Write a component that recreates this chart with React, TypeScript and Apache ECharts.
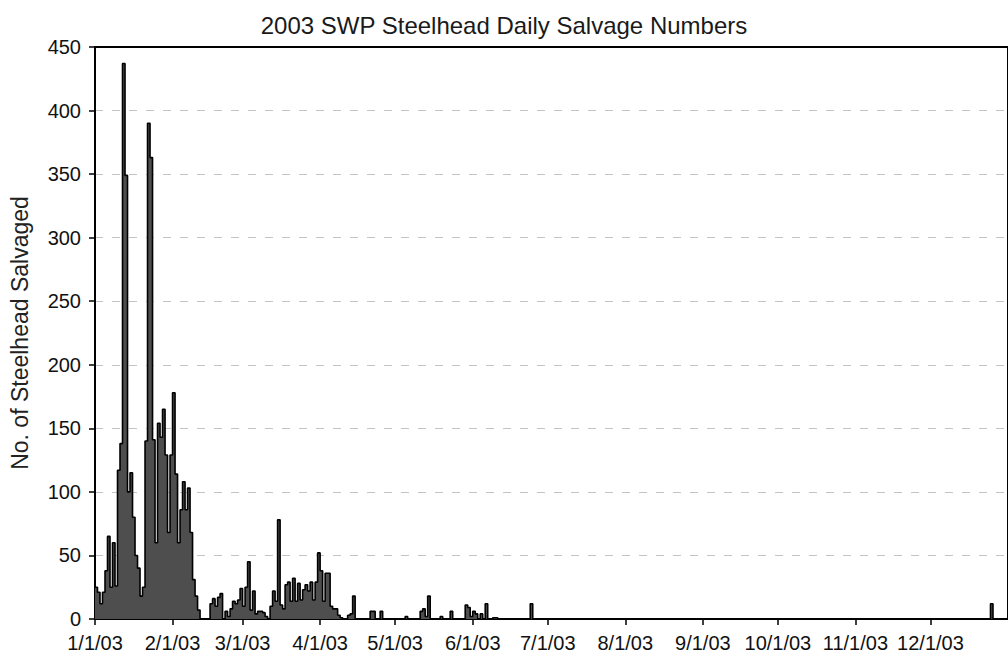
import React, { useEffect, useRef } from "react";
import * as echarts from "echarts";

const TITLE = "2003 SWP Steelhead Daily Salvage Numbers";
const Y_NAME = "No. of Steelhead Salvaged";

// x tick positions (day index of each month start) and their labels
const tickDays = [0, 31, 59, 90, 120, 151, 181, 212, 243, 273, 304, 334];
const tickLabels = [
  "1/1/03", "2/1/03", "3/1/03", "4/1/03", "5/1/03", "6/1/03",
  "7/1/03", "8/1/03", "9/1/03", "10/1/03", "11/1/03", "12/1/03",
];

// daily salvage numbers, one value per day
const jan = [25, 21, 12, 21, 38, 65, 25, 60, 26, 117, 138, 437, 349, 100, 115, 80, 50, 40, 18, 25, 140, 390, 363, 141, 60, 154, 143, 165, 129, 68, 129];
const feb = [178, 114, 60, 86, 108, 86, 103, 68, 31, 18, 7, 0, 0, 0, 0, 12, 16, 10, 17, 20, 0, 6, 2, 8, 14, 12, 15, 24];
const mar = [10, 25, 45, 7, 22, 4, 6, 6, 5, 2, 0, 10, 22, 14, 78, 11, 8, 27, 29, 14, 32, 14, 28, 15, 23, 27, 22, 29, 15, 29, 52];
const apr = [38, 14, 36, 36, 10, 8, 8, 3, 1, 0, 0, 3, 4, 18, 0, 0, 0, 0, 0, 0, 6, 6, 0, 0, 6, 0, 0, 0, 0, 0];
const may = [0, 0, 0, 0, 2, 0, 0, 0, 0, 0, 6, 8, 2, 18, 0, 0, 0, 0, 2, 0, 0, 0, 6, 0, 0, 0, 0, 0, 11, 9, 2];
const jun = [6, 4, 0, 4, 0, 12, 0, 0, 1, 1, 0, 0, 0, 0, 0, 0, 0, 0, 0, 0, 0, 0, 0, 12, 0, 0, 0, 0, 0, 0];
const jul = [0, 0, 0, 0, 0, 0, 0, 0, 0, 0, 0, 0, 0, 0, 0, 0, 0, 0, 0, 0, 0, 0, 0, 0, 0, 0, 0, 0, 0, 0, 0];
const aug = [0, 0, 0, 0, 0, 0, 0, 0, 0, 0, 0, 0, 0, 0, 0, 0, 0, 0, 0, 0, 0, 0, 0, 0, 0, 0, 0, 0, 0, 0, 0];
const sep = [0, 0, 0, 0, 0, 0, 0, 0, 0, 0, 0, 0, 0, 0, 0, 0, 0, 0, 0, 0, 0, 0, 0, 0, 0, 0, 0, 0, 0, 0];
const oct = [0, 0, 0, 0, 0, 0, 0, 0, 0, 0, 0, 0, 0, 0, 0, 0, 0, 0, 0, 0, 0, 0, 0, 0, 0, 0, 0, 0, 0, 0, 0];
const nov = [0, 0, 0, 0, 0, 0, 0, 0, 0, 0, 0, 0, 0, 0, 0, 0, 0, 0, 0, 0, 0, 0, 0, 0, 0, 0, 0, 0, 0, 0];
const dec = [0, 0, 0, 0, 0, 0, 0, 0, 0, 0, 0, 0, 0, 0, 0, 0, 0, 0, 0, 0, 0, 0, 0, 0, 12, 0, 0, 0, 0, 0, 0];

const FONT = "'Liberation Sans', Arial, Helvetica, sans-serif";

export default function App() {
  const ref = useRef<HTMLDivElement>(null);

  useEffect(() => {
    document.body.style.margin = "0";
    const daily = [...jan, ...feb, ...mar, ...apr, ...may, ...jun, ...jul, ...aug, ...sep, ...oct, ...nov, ...dec];
    const points: number[][] = daily.map((v, i) => [i, v]);
    points.push([daily.length, 0]);

    const chart = echarts.init(ref.current as HTMLDivElement, null, { renderer: "svg" });
    chart.setOption({
      animation: false,
      backgroundColor: "#ffffff",
      textStyle: { fontFamily: FONT },
      title: {
        text: TITLE,
        left: "center",
        top: 8,
        textStyle: { fontSize: 24, fontWeight: "normal", color: "#1a1a1a", fontFamily: FONT },
      },
      grid: {
        left: 93,
        top: 47,
        width: 927,
        height: 572,
        show: true,
        borderColor: "#000",
        borderWidth: 2,
        backgroundColor: "transparent",
      },
      xAxis: {
        type: "value",
        min: 0,
        max: daily.length,
        splitLine: { show: false },
        axisLine: { show: true, lineStyle: { color: "#000", width: 2 } },
        axisTick: { show: true, customValues: tickDays, length: 6, lineStyle: { color: "#000", width: 1.5 } },
        axisLabel: {
          customValues: tickDays,
          formatter: (v: number) => tickLabels[tickDays.indexOf(v)] ?? "",
          fontSize: 20,
          color: "#111",
          margin: 14,
          fontFamily: FONT,
        },
      },
      yAxis: {
        type: "value",
        min: 0,
        max: 450,
        interval: 50,
        name: Y_NAME,
        nameLocation: "middle",
        nameGap: 64,
        nameTextStyle: { fontSize: 23, color: "#222", fontFamily: FONT },
        axisLine: { show: true, lineStyle: { color: "#000", width: 2 } },
        axisTick: { show: true, length: 6, lineStyle: { color: "#000", width: 1.5 } },
        axisLabel: { fontSize: 20, color: "#111", margin: 14, fontFamily: FONT },
        splitLine: { show: true, showMaxLine: false, lineStyle: { color: "#c4c4c4", type: [8, 9], width: 1 } },
      },
      series: [
        {
          type: "line",
          step: "end",
          data: points,
          symbol: "none",
          lineStyle: { color: "#000", width: 1.6 },
          areaStyle: { color: "#4e4e4e", opacity: 1 },
          clip: true,
        },
      ],
    });
    return () => chart.dispose();
  }, []);

  return <div ref={ref} style={{ width: 1008, height: 664 }} />;
}
